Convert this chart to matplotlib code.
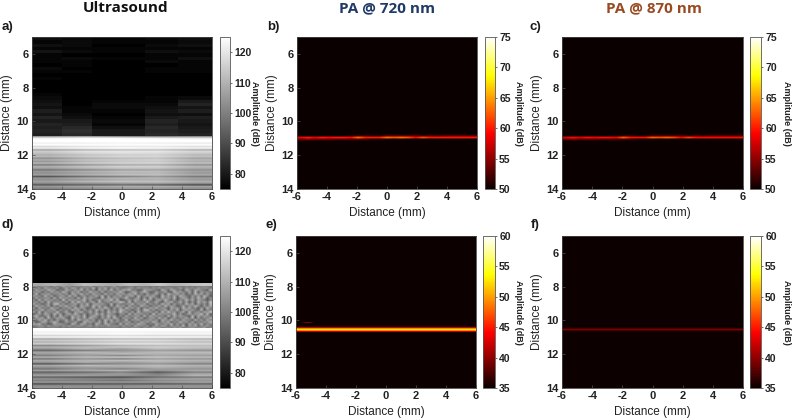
import numpy as np
import matplotlib
matplotlib.use("Agg")
import matplotlib.pyplot as plt
from matplotlib.cm import ScalarMappable
from matplotlib.colors import Normalize

plt.rcParams['font.family'] = ['Liberation Sans', 'DejaVu Sans']
plt.rcParams['axes.unicode_minus'] = False

titles = ["Ultrasound", "PA @ 720 nm", "PA @ 870 nm"]
panel_labels = ["a)", "b)", "c)", "d)", "e)", "f)"]
x_ticks = [-6, -4, -2, 0, 2, 4, 6]
y_ticks = [6, 8, 10, 12, 14]
us_range = (75, 125)
pa_top_range = (50, 75)
pa_bot_range = (35, 60)
us_ticks = [80, 90, 100, 110, 120]
pa_top_ticks = [50, 55, 60, 65, 70, 75]
pa_bot_ticks = [35, 40, 45, 50, 55, 60]

# Panel a: dark area above the interface, dB by depth (5.0 to 10.8 mm, 0.2 mm rows) and lateral block
a_upper_x_edges = [-6, -4, -2, 1.5, 3.7, 6]
a_upper = [
    [78, 77, 76, 77, 78], [76, 77, 76, 76, 77], [78, 77, 75, 77, 78], [76, 76, 76, 76, 76],
    [79, 77, 76, 78, 77], [76, 75, 75, 76, 76], [76, 77, 76, 76, 78], [76, 76, 75, 77, 76],
    [75, 76, 75, 75, 76], [77, 75, 75, 76, 76], [76, 76, 75, 76, 76], [75, 75, 75, 75, 75],
    [76, 75, 75, 75, 75], [75, 75, 75, 75, 75], [75, 75, 75, 75, 75], [75, 75, 75, 75, 75],
    [75, 75, 75, 75, 75], [76, 75, 75, 75, 75], [77, 75, 75, 76, 77], [78, 75, 76, 76, 80],
    [79, 75, 77, 77, 82], [78, 76, 77, 78, 79], [81, 76, 76, 79, 81], [79, 77, 75, 78, 78],
    [82, 78, 76, 80, 81], [80, 80, 77, 82, 80], [82, 81, 76, 81, 79], [81, 83, 78, 83, 80],
    [82, 84, 80, 82, 81], [81, 83, 80, 83, 82],
]

# Panel a: below the interface, dB from 10.8 to 14.0 mm at x = -6, -3, 0, 3, 6
a_lower = [
    [94, 96, 94, 92, 90], [105, 106, 103, 101, 103], [122, 124, 124, 122, 120],
    [125, 125, 125, 125, 125], [125, 125, 125, 125, 125], [122, 122, 123, 122, 121],
    [125, 125, 125, 125, 125], [118, 120, 121, 121, 119], [122, 124, 125, 124, 123],
    [107, 110, 112, 113, 109], [115, 119, 120, 120, 117], [113, 117, 119, 118, 115],
    [109, 113, 115, 116, 111], [111, 115, 117, 117, 113], [103, 109, 112, 113, 107],
    [109, 113, 115, 116, 111], [105, 111, 114, 115, 109], [111, 115, 117, 117, 113],
    [99, 104, 108, 109, 103], [109, 113, 116, 116, 111], [107, 111, 114, 114, 109],
    [98, 102, 106, 107, 103], [105, 109, 112, 112, 107], [103, 107, 110, 111, 105],
    [107, 110, 113, 113, 109], [92, 98, 101, 105, 99], [105, 109, 111, 111, 107],
    [103, 106, 109, 109, 105], [107, 111, 113, 113, 109], [103, 105, 107, 108, 105],
    [92, 94, 96, 94, 90], [105, 107, 109, 109, 107], [101, 103, 105, 105, 103],
]

# Panel d: speckle layer as digit rows, 7.95 to 10.45 mm (dB = base + step * digit)
speckle_base = 91
speckle_step = 2.4
d_speckle = [
    "453645263574624536472546354725",
    "635274536146375264538164725463",
    "274638561427536482635174638254",
    "546152746385264715384627153648",
    "381647254636175483627451836274",
    "645283714562837146254738162547",
    "273546182746351827465318274653",
    "518274635192746358261473659281",
    "462718354627183946257183462759",
    "735146289361547263815746328154",
    "284637152748364175628473516284",
    "617352846153728465137264851637",
    "354826471635284716352847163528",
    "728164539247316582473615284739",
    "146375284615738426153847265314",
    "583247161835274638147526384715",
    "265718346572184637285416372851",
    "637482516347261854736152847263",
    "412763585126437218564372816453",
    "768341275643185276341852764318",
    "345536445354634553463545364553",
    "334433443343344334433433434433",
]

# Panel d: layer surface, dB along x (12 values), and lower region by depth (10.5 to 14.0 mm)
d_surface = [108, 110, 106, 112, 110, 108, 112, 110, 114, 110, 112, 114]
d_lower = [
    [125, 125, 125, 125, 125], [125, 125, 125, 125, 125], [122, 122, 123, 122, 122],
    [124, 124, 125, 124, 124], [117, 118, 119, 118, 118], [123, 124, 124, 124, 124],
    [108, 110, 112, 112, 110], [114, 116, 118, 118, 116], [110, 112, 114, 114, 112],
    [116, 118, 120, 120, 118], [102, 106, 110, 112, 112], [110, 112, 114, 116, 114],
    [104, 110, 106, 112, 110], [96, 100, 104, 106, 104], [108, 112, 108, 112, 112],
    [106, 108, 112, 110, 110], [100, 106, 102, 108, 106], [110, 112, 114, 114, 112],
    [98, 104, 100, 106, 104], [108, 110, 112, 112, 110], [106, 110, 106, 110, 108],
    [92, 98, 102, 104, 100], [108, 112, 110, 112, 110], [104, 106, 108, 110, 108],
    [98, 104, 100, 106, 104], [106, 108, 110, 104, 108], [94, 96, 100, 92, 100],
    [102, 104, 106, 100, 108], [106, 106, 104, 102, 110], [94, 92, 90, 96, 98],
    [104, 102, 102, 106, 108], [100, 100, 98, 102, 104], [106, 106, 106, 106, 108],
    [90, 92, 92, 92, 94], [102, 102, 102, 104, 104], [104, 104, 104, 104, 104],
]

# Panel b: photoacoustic line, dB across 25 columns (x = -6 ... 6) for rows 10.88 ... 11.12 mm
b_row_above = [50, 50, 50, 50, 50, 50, 50, 51, 52, 52, 51, 51, 53, 53, 53, 53, 53, 52, 53, 52, 53, 53, 53, 53, 53]
b_row_peak = [58, 60, 58, 60, 59, 60, 60, 59, 63, 60, 60, 60, 63, 62, 63, 62, 59, 62, 60, 60, 60, 60, 60, 60, 60]
b_row_below = [54, 55, 54, 54, 54, 53, 53, 53, 53, 52, 51, 51, 51, 50, 51, 50, 50, 50, 50, 50, 50, 50, 50, 50, 50]
pa_top_background = 50.05
c_offset = -0.5

# Panels e and f: line profile through depth, dB
e_line_depths = [10.35, 10.42, 10.49, 10.55, 10.61, 10.68, 10.75]
e_line_db = [35.1, 42, 49, 53, 49, 42, 35.1]
e_spot_x = [-5.9, -5.6, -5.3, -5.0, -4.7]
e_spot_db = [35.1, 37, 40, 39, 35.1]
f_line_db = [35.1, 35.5, 37, 39.5, 37, 35.5, 35.1]
pa_bot_background = 35.1

W, H = 793, 419
fig = plt.figure(figsize=(W / 100, H / 100), dpi=100)


def rect(x0, x1, y0, y1):
    return [x0 / W, 1 - y1 / H, (x1 - x0) / W, (y1 - y0) / H]


def make_axes(box, cbox, cmap, rng, cticks, letter, lab_xy, label_x):
    ax = fig.add_axes(rect(*box))
    ax.set_xlim(-6, 6)
    ax.set_ylim(14, 5)
    ax.set_facecolor('black')
    ax.set_xticks(x_ticks)
    ax.set_yticks(y_ticks)
    ax.tick_params(direction='in', length=2, width=0.5, pad=2.5, labelsize=8, color='#555555')
    for t in ax.get_xticklabels() + ax.get_yticklabels():
        t.set_fontweight('bold')
        t.set_color('#222222')
    ax.set_xlabel("Distance (mm)", fontsize=8.5, labelpad=3.5, color='#222222')
    ax.set_ylabel("Distance (mm)", fontsize=8.5, labelpad=2, color='#222222')
    for s in ax.spines.values():
        s.set_linewidth(0.6)
        s.set_color('#444444')
    cax = fig.add_axes(rect(*cbox))
    sm = ScalarMappable(norm=Normalize(*rng), cmap=cmap)
    cb = fig.colorbar(sm, cax=cax)
    cb.set_ticks(cticks)
    cax.tick_params(length=1.5, width=0.5, pad=1.5, labelsize=7.5, color='#333333')
    for t in cax.get_yticklabels():
        t.set_fontweight('bold')
        t.set_color('#222222')
    cb.outline.set_linewidth(0.6)
    cb.outline.set_edgecolor('#555555')
    fig.text(label_x / W, 1 - (box[2] + box[3]) / 2 / H, "Amplitude (dB)", rotation=270,
             fontsize=6.5, fontweight='bold', ha='center', va='center', color='#222222')
    fig.text(lab_xy[0] / W, 1 - lab_xy[1] / H, letter, fontsize=9.5, fontweight='bold',
             ha='left', va='center', color='#1a1a1a')
    return ax


kw_us = dict(cmap='gray', vmin=us_range[0], vmax=us_range[1], aspect='auto')
kw_t = dict(cmap='hot', vmin=pa_top_range[0], vmax=pa_top_range[1], aspect='auto')
kw_b = dict(cmap='hot', vmin=pa_bot_range[0], vmax=pa_bot_range[1], aspect='auto')

# a
ax = make_axes((32, 212, 37, 189), (220, 230, 37, 189), 'gray', us_range, us_ticks, "a)", (2, 27), 254)
ax.pcolormesh(a_upper_x_edges, np.linspace(5, 10.85, len(a_upper) + 1), np.array(a_upper),
              cmap='gray', vmin=us_range[0], vmax=us_range[1], shading='flat')
ax.imshow(np.array(a_lower), extent=(-6, 6, 14, 10.8), interpolation='bilinear', **kw_us)
ax.set_xlim(-6, 6); ax.set_ylim(14, 5)

# d
ax = make_axes((32, 212, 236, 388), (220, 230, 236, 388), 'gray', us_range, us_ticks, "d)", (2, 225), 254)
sp = np.array([[int(c) for c in row] for row in d_speckle])
sp = np.hstack([sp, sp[::-1]]) * speckle_step + speckle_base
ax.imshow(sp, extent=(-6, 6, 10.5, 7.95), interpolation='bilinear', **kw_us)
ax.imshow(np.array([d_surface]), extent=(-6, 6, 7.95, 7.8), interpolation='bilinear', **kw_us)
ax.imshow(np.array(d_lower), extent=(-6, 6, 14, 10.5), interpolation='bilinear', **kw_us)
ax.set_xlim(-6, 6); ax.set_ylim(14, 5)

# b, c
pa_line = np.array([[pa_top_background] * 25, b_row_above, b_row_peak, b_row_below, [pa_top_background] * 25], float)
for box, cbox, letter, pos, lx, off in [
        ((297, 477, 37, 189), (485, 495, 37, 189), "b)", (267, 27), 518, 0),
        ((562, 743, 37, 189), (750, 761, 37, 189), "c)", (530, 27), 787, c_offset)]:
    ax = make_axes(box, cbox, 'hot', pa_top_range, pa_top_ticks, letter, pos, lx)
    ax.imshow([[pa_top_background]], extent=(-6, 6, 14, 5), **kw_t)
    ax.imshow(pa_line + off, extent=(-6, 6, 11.24, 10.76), interpolation='bilinear', **kw_t)
    ax.set_xlim(-6, 6); ax.set_ylim(14, 5)

# e, f
ax = make_axes((296, 476, 236, 388), (483, 495, 236, 388), 'hot', pa_bot_range, pa_bot_ticks, "e)", (266, 225), 518)
ax.imshow([[pa_bot_background]], extent=(-6, 6, 14, 5), **kw_b)
ax.imshow(np.array(e_line_db)[:, None], extent=(-6, 6, e_line_depths[-1], e_line_depths[0]),
          interpolation='bilinear', **kw_b)
ax.imshow(np.array([[pa_bot_background] * 5, e_spot_db, [pa_bot_background] * 5]),
          extent=(e_spot_x[0], e_spot_x[-1], 10.24, 10.1), interpolation='bilinear', **kw_b)
ax.set_xlim(-6, 6); ax.set_ylim(14, 5)

ax = make_axes((562, 743, 236, 388), (750, 761, 236, 388), 'hot', pa_bot_range, pa_bot_ticks, "f)", (531, 225), 787)
ax.imshow([[pa_bot_background]], extent=(-6, 6, 14, 5), **kw_b)
ax.imshow(np.array(f_line_db)[:, None], extent=(-6, 6, e_line_depths[-1], e_line_depths[0]),
          interpolation='bilinear', **kw_b)
ax.set_xlim(-6, 6); ax.set_ylim(14, 5)

for (cx, txt, col) in zip([126, 387, 654], titles, ['#111111', '#1f3a68', '#9a4a22']):
    fig.text(cx / W, 1 - 8 / H, txt, fontsize=11, fontweight='bold', color=col,
             ha='center', va='center', family=['Open Sans', 'DejaVu Sans'])

fig.savefig("out.png", dpi=100)
